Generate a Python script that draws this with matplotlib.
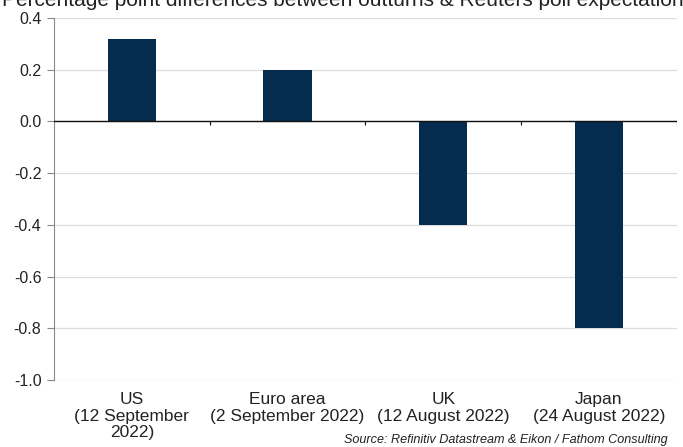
import numpy as np
import matplotlib
matplotlib.use("Agg")
import matplotlib.pyplot as plt

plt.rcParams["font.family"] = ["Liberation Sans", "DejaVu Sans"]

categories = ["US\n(12 September\n2022)", "Euro area\n(2 September 2022)",
              "UK\n(12 August 2022)", "Japan\n(24 August 2022)"]
values = [0.32, 0.20, -0.40, -0.80]
yticks = [0.4, 0.2, 0.0, -0.2, -0.4, -0.6, -0.8, -1.0]

title = "Percentage point differences between outturns & Reuters poll expectations"
source = "Source: Refinitiv Datastream & Eikon / Fathom Consulting"

fig = plt.figure(figsize=(6.83, 4.47), dpi=100)
ax = fig.add_axes([0.079, 0.150, 0.912, 0.810])

x = np.arange(len(categories))
ax.bar(x, values, width=0.31, color="#052c4e", zorder=3)

ax.set_xlim(-0.5, len(categories) - 0.5)
ax.set_ylim(-1.0, 0.4)
ax.set_yticks(yticks)
ax.set_yticklabels([f"{v:.1f}" for v in yticks], fontsize=11.5, color="#222222")
ax.grid(axis="y", color="#dddddd", linewidth=0.9, zorder=0)
ax.axhline(0, color="#111111", linewidth=1.0, zorder=4)

# category separator ticks on the zero line
ax.vlines(x[1:] - 0.5, -0.015, 0, color="#111111", linewidth=0.8, zorder=4)
ax.vlines([len(categories) - 0.5], -0.015, 0, color="#111111", linewidth=0.8, zorder=4)

ax.set_xticks(x)
ax.set_xticklabels(categories, fontsize=12.5, color="#222222", linespacing=1.12)
ax.tick_params(axis="x", length=0, pad=9)
ax.tick_params(axis="y", length=5, color="#888888", pad=4)

for side in ["top", "right", "bottom"]:
    ax.spines[side].set_visible(False)
ax.spines["left"].set_color("#888888")

fig.text(0.003, 0.987, title, fontsize=15, ha="left", va="baseline", color="#222222")
fig.text(0.978, 0.008, source, fontsize=9.1, style="italic", ha="right",
         va="baseline", color="#222222")

fig.savefig("out.png", dpi=100)
plt.close(fig)
